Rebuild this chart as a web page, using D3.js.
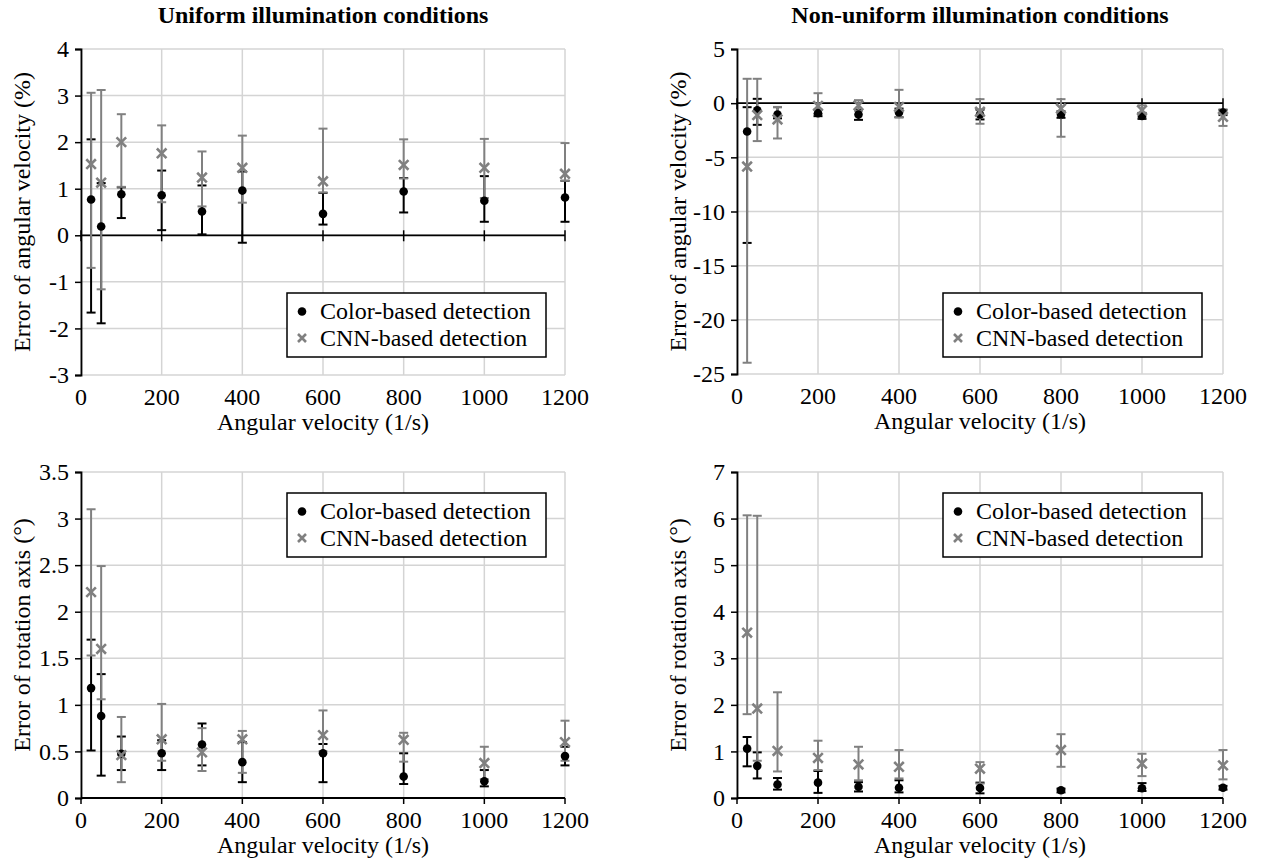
<!DOCTYPE html>
<html>
<head>
<meta charset="utf-8">
<script src="https://cdn.jsdelivr.net/npm/d3@7"></script>
<style>
  body { margin: 0; background: #fff; }
  svg text { font-family: "Liberation Serif", "Times New Roman", serif; }
</style>
</head>
<body>
<svg id="chart" width="1263" height="866"></svg>
<script>
// x categories (angular velocity, 1/s)
var velocities = [25, 50, 100, 200, 300, 400, 600, 800, 1000, 1200];

// uniform illumination - error of angular velocity (%)
var uniVelColor     = [0.77, 0.19, 0.88, 0.86, 0.51, 0.96, 0.46, 0.94, 0.74, 0.81];
var uniVelColorLow  = [-1.66, -1.89, 0.37, 0.11, 0.02, -0.16, 0.23, 0.49, 0.29, 0.29];
var uniVelColorHigh = [2.06, 1.12, 1.03, 1.39, 1.07, 1.37, 0.91, 1.23, 1.27, 1.17];
var uniVelCnn       = [1.53, 1.13, 2.0, 1.76, 1.24, 1.45, 1.16, 1.51, 1.45, 1.32];
var uniVelCnnLow    = [-0.7, -1.16, 1.04, 0.71, 0.62, 0.7, 0.92, 1.22, 0.8, 1.17];
var uniVelCnnHigh   = [3.06, 3.12, 2.6, 2.36, 1.8, 2.14, 2.29, 2.06, 2.07, 1.98];

// non-uniform illumination - error of angular velocity (%)
var nonVelColor     = [-2.62, -0.65, -1.05, -0.92, -1.05, -0.86, -1.05, -1.05, -1.17, -0.86];
var nonVelColorLow  = [-12.9, -2.0, -1.4, -1.2, -1.54, -1.3, -1.5, -1.35, -1.45, -1.1];
var nonVelColorHigh = [-0.37, 0.4, -0.37, -0.6, -0.6, -0.5, -0.6, -0.75, -0.9, -0.6];
var nonVelCnn       = [-5.85, -1.1, -1.5, -0.25, -0.2, -0.34, -0.8, -0.5, -0.65, -1.26];
var nonVelCnnLow    = [-23.96, -3.5, -3.26, -1.0, -0.7, -1.3, -1.9, -3.1, -1.3, -2.1];
var nonVelCnnHigh   = [2.25, 2.25, -0.35, 0.92, 0.28, 1.23, 0.37, 0.37, -0.2, -0.65];

// uniform illumination - error of rotation axis (deg)
var uniAxColor      = [1.18, 0.88, 0.475, 0.48, 0.575, 0.385, 0.48, 0.23, 0.18, 0.45];
var uniAxColorLow   = [0.51, 0.24, 0.3, 0.3, 0.35, 0.17, 0.17, 0.15, 0.125, 0.35];
var uniAxColorHigh  = [1.70, 1.33, 0.66, 0.62, 0.8, 0.6, 0.58, 0.48, 0.3, 0.55];
var uniAxCnn        = [2.21, 1.6, 0.46, 0.63, 0.49, 0.63, 0.675, 0.625, 0.375, 0.6];
var uniAxCnnLow     = [1.53, 1.06, 0.17, 0.4, 0.29, 0.27, 0.5, 0.39, 0.2, 0.4];
var uniAxCnnHigh    = [3.1, 2.49, 0.87, 1.01, 0.75, 0.72, 0.94, 0.70, 0.55, 0.83];

// non-uniform illumination - error of rotation axis (deg)
var nonAxColor      = [1.06, 0.69, 0.29, 0.33, 0.24, 0.22, 0.215, 0.165, 0.21, 0.22];
var nonAxColorLow   = [0.68, 0.42, 0.18, 0.11, 0.14, 0.12, 0.1, 0.12, 0.15, 0.18];
var nonAxColorHigh  = [1.31, 0.98, 0.43, 0.58, 0.34, 0.38, 0.33, 0.2, 0.32, 0.26];
var nonAxCnn        = [3.55, 1.92, 1.01, 0.86, 0.72, 0.67, 0.63, 1.03, 0.74, 0.70];
var nonAxCnnLow     = [1.8, 0.8, 0.57, 0.6, 0.38, 0.42, 0.31, 0.67, 0.47, 0.4];
var nonAxCnnHigh    = [6.07, 6.06, 2.27, 1.23, 1.1, 1.03, 0.77, 1.37, 0.95, 1.03];

var xTicks = [0, 200, 400, 600, 800, 1000, 1200];
var titles = ["Uniform illumination conditions", "Non-uniform illumination conditions"];
var xTitle = "Angular velocity (1/s)";
var yTitleVel = "Error of angular velocity (%)";
var yTitleAx = "Error of rotation axis (\u00b0)";
var legendLabels = ["Color-based detection", "CNN-based detection"];

var svg = d3.select("#chart");
var FS = 24;
var FONT = "'Liberation Serif', 'Times New Roman', serif";
var GRAY = "#808080";

function zip(mean, low, high) {
    return velocities.map(function(v, i) {
        return { x: v, y: mean[i], lo: low[i], hi: high[i] };
    });
}

function drawPanel(p) {
    var g = svg.append("g");
    var x = d3.scaleLinear().domain([0, 1200]).range([p.left, p.right]);
    var y = d3.scaleLinear().domain(p.yDomain).range([p.bottom, p.top]);
    var yTicks = d3.range(p.yDomain[0], p.yDomain[1] + p.yStep / 2, p.yStep);

    // grid
    g.append("g").selectAll("line.gx").data(xTicks).enter().append("line")
        .attr("x1", function(d) { return x(d); }).attr("x2", function(d) { return x(d); })
        .attr("y1", p.top).attr("y2", p.bottom)
        .attr("stroke", "#d4d4d4").attr("stroke-width", 1.5);
    g.append("g").selectAll("line.gy").data(yTicks).enter().append("line")
        .attr("x1", p.left).attr("x2", p.right)
        .attr("y1", function(d) { return y(d); }).attr("y2", function(d) { return y(d); })
        .attr("stroke", "#d4d4d4").attr("stroke-width", 1.5);

    // y axis
    var yAxis = d3.axisLeft(y).tickValues(yTicks).tickSize(6).tickPadding(6)
        .tickFormat(function(d) { return String(+d.toFixed(2)); });
    var ya = g.append("g").attr("transform", "translate(" + p.left + ",0)").call(yAxis)
        .attr("font-family", FONT);
    ya.select(".domain").attr("stroke", "#000").attr("stroke-width", 1.8);
    ya.selectAll(".tick line").attr("stroke", "#000").attr("stroke-width", 1.5);
    ya.selectAll("text").attr("font-size", FS).attr("fill", "#000");

    // x axis line at y = 0 with ticks
    var y0 = y(0);
    g.append("line").attr("x1", p.left).attr("x2", p.right).attr("y1", y0).attr("y2", y0)
        .attr("stroke", "#000").attr("stroke-width", 1.8);
    g.append("g").selectAll("line").data(xTicks).enter().append("line")
        .attr("x1", function(d) { return x(d); }).attr("x2", function(d) { return x(d); })
        .attr("y1", y0 - (p.crossTicks ? 5 : 0)).attr("y2", y0 + 6)
        .attr("stroke", "#000").attr("stroke-width", 1.5);

    // x tick labels at bottom of plot
    g.append("g").selectAll("text").data(xTicks).enter().append("text")
        .attr("x", function(d) { return x(d); }).attr("y", p.bottom + 30)
        .attr("text-anchor", "middle").attr("font-size", FS)
        .text(function(d) { return d; });

    // titles
    g.append("text").attr("x", (p.left + p.right) / 2).attr("y", p.bottom + 55)
        .attr("text-anchor", "middle").attr("font-size", FS).text(xTitle);
    g.append("text")
        .attr("transform", "translate(" + (p.left - 59) + "," + ((p.top + p.bottom) / 2) + ") rotate(-90)")
        .attr("text-anchor", "middle").attr("dominant-baseline", "central")
        .attr("font-size", FS).text(p.yTitle);
    if (p.title) {
        g.append("text").attr("x", (p.left + p.right) / 2).attr("y", 23)
            .attr("text-anchor", "middle").attr("font-size", FS).attr("font-weight", "bold")
            .text(p.title);
    }

    // error bars
    function errorBars(data, color) {
        var eb = g.append("g").attr("stroke", color).attr("stroke-width", 2);
        eb.selectAll("line.v").data(data).enter().append("line")
            .attr("x1", function(d) { return x(d.x); }).attr("x2", function(d) { return x(d.x); })
            .attr("y1", function(d) { return y(d.lo); }).attr("y2", function(d) { return y(d.hi); });
        ["lo", "hi"].forEach(function(k) {
            eb.selectAll("line." + k).data(data).enter().append("line")
                .attr("x1", function(d) { return x(d.x) - 4.5; }).attr("x2", function(d) { return x(d.x) + 4.5; })
                .attr("y1", function(d) { return y(d[k]); }).attr("y2", function(d) { return y(d[k]); });
        });
    }
    var colorData = zip(p.color[0], p.color[1], p.color[2]);
    var cnnData = zip(p.cnn[0], p.cnn[1], p.cnn[2]);
    errorBars(colorData, "#000");
    errorBars(cnnData, GRAY);

    g.append("g").selectAll("circle").data(colorData).enter().append("circle")
        .attr("cx", function(d) { return x(d.x); }).attr("cy", function(d) { return y(d.y); })
        .attr("r", 4.3).attr("fill", "#000");
    g.append("g").selectAll("path").data(cnnData).enter().append("path")
        .attr("d", function(d) {
            var cx = x(d.x), cy = y(d.y), s = 4.8;
            return "M" + (cx - s) + "," + (cy - s) + "L" + (cx + s) + "," + (cy + s) +
                   "M" + (cx - s) + "," + (cy + s) + "L" + (cx + s) + "," + (cy - s);
        })
        .attr("stroke", GRAY).attr("stroke-width", 2.6).attr("fill", "none");

    // legend
    var lx = p.left + 206, ly = p.legendTop;
    var lg = g.append("g");
    lg.append("rect").attr("x", lx).attr("y", ly).attr("width", 259).attr("height", 64)
        .attr("fill", "#fff").attr("stroke", "#000").attr("stroke-width", 1.5);
    lg.append("circle").attr("cx", lx + 15).attr("cy", ly + 18.5).attr("r", 4.3).attr("fill", "#000");
    var mx = lx + 15, my = ly + 45, s = 4;
    lg.append("path")
        .attr("d", "M" + (mx - s) + "," + (my - s) + "L" + (mx + s) + "," + (my + s) +
                   "M" + (mx - s) + "," + (my + s) + "L" + (mx + s) + "," + (my - s))
        .attr("stroke", GRAY).attr("stroke-width", 2.6);
    lg.selectAll("text").data(legendLabels).enter().append("text")
        .attr("x", lx + 33).attr("y", function(d, i) { return ly + 26 + i * 27; })
        .attr("font-size", FS).text(function(d) { return d; });
}

drawPanel({ left: 81, right: 565, top: 49, bottom: 375, yDomain: [-3, 4], yStep: 1,
    crossTicks: true, title: titles[0], yTitle: yTitleVel, legendTop: 293,
    color: [uniVelColor, uniVelColorLow, uniVelColorHigh],
    cnn: [uniVelCnn, uniVelCnnLow, uniVelCnnHigh] });
drawPanel({ left: 737, right: 1223, top: 49, bottom: 374, yDomain: [-25, 5], yStep: 5,
    crossTicks: true, title: titles[1], yTitle: yTitleVel, legendTop: 293,
    color: [nonVelColor, nonVelColorLow, nonVelColorHigh],
    cnn: [nonVelCnn, nonVelCnnLow, nonVelCnnHigh] });
drawPanel({ left: 81, right: 565, top: 472, bottom: 798, yDomain: [0, 3.5], yStep: 0.5,
    crossTicks: false, yTitle: yTitleAx, legendTop: 493,
    color: [uniAxColor, uniAxColorLow, uniAxColorHigh],
    cnn: [uniAxCnn, uniAxCnnLow, uniAxCnnHigh] });
drawPanel({ left: 737, right: 1223, top: 472, bottom: 798, yDomain: [0, 7], yStep: 1,
    crossTicks: false, yTitle: yTitleAx, legendTop: 493,
    color: [nonAxColor, nonAxColorLow, nonAxColorHigh],
    cnn: [nonAxCnn, nonAxCnnLow, nonAxCnnHigh] });
</script>
</body>
</html>
